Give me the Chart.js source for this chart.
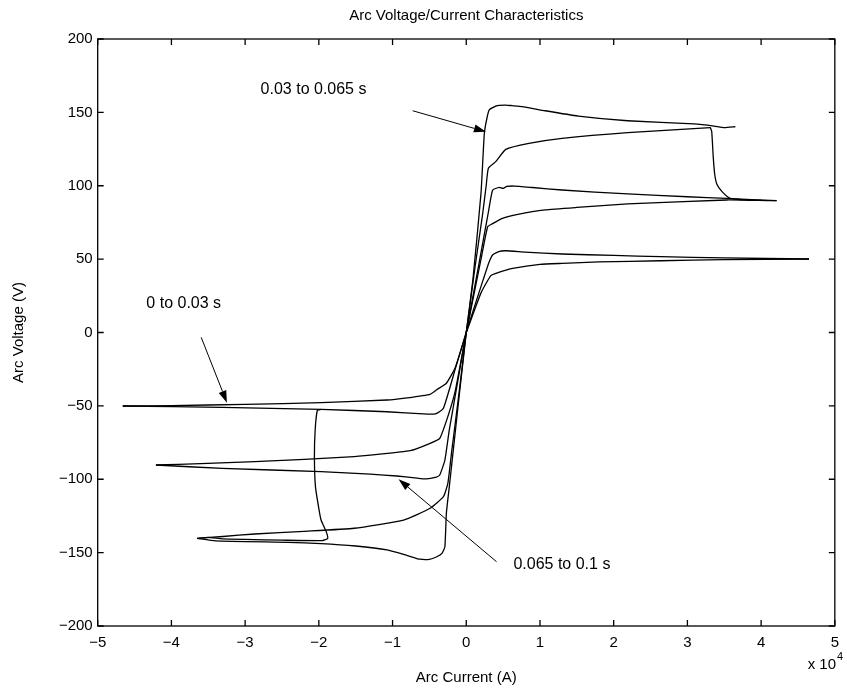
<!DOCTYPE html>
<html>
<head>
<meta charset="utf-8">
<title>Arc Voltage/Current Characteristics</title>
<script src="https://cdn.jsdelivr.net/npm/chart.js@4.4.1/dist/chart.umd.min.js"></script>
<style>
  html, body { margin: 0; padding: 0; background: #fff; }
  #wrap { width: 847px; height: 689px; }
</style>
</head>
<body>
<div id="wrap"><canvas id="arcChart" width="847" height="689"></canvas></div>
<script>
// arc current in units of 1e4 A, arc voltage in V  -> [I, V]

// 0 to 0.03 s  (about +/-50 V)
const loopA_upPos = [[0,0],[0.12,19],[0.23,36],[0.31,48],[0.36,53],[0.45,55.3],[0.54,55.7],[0.8,54.8],[1.3,53.5],[2.0,52.5],[2.64,51.7],[3.5,50.8],[4.65,50.1]];
const loopA_loPos = [[4.65,50.1],[3.5,49.6],[2.64,48.9],[1.8,48.1],[1.3,47.1],[1.0,46.4],[0.63,43.7],[0.45,41.2],[0.334,38.8],[0.2,27],[0,0]];
const loopA_upNeg = [[0,0],[-0.15,-24],[-0.27,-34.6],[-0.40,-39],[-0.49,-42.1],[-0.8,-44.5],[-1.075,-46],[-1.97,-47.8],[-3.0,-49],[-4.0,-49.8],[-4.66,-50.1]];
const loopA_loNeg = [[-4.66,-50.1],[-3.31,-51],[-1.97,-52.4],[-1.075,-54],[-0.58,-55.5],[-0.45,-55.6],[-0.40,-55.1],[-0.31,-51.7],[-0.15,-25],[0,0]];

// 0.03 to 0.065 s  (about +/-140..155 V)
const loopB_upPos = [[0,0],[0.09,36],[0.2,95],[0.245,135.7],[0.28,146],[0.31,151.6],[0.40,154.3],[0.45,154.8],[0.536,155],[0.62,154.6],[0.76,153.9],[1.07,151.1],[1.52,147.5],[2.19,144.3],[3.09,142.1],[3.36,140.7],[3.5,139.6],[3.65,140.2]];
const loopB_loPos = [[0,0],[0.12,45],[0.22,80],[0.27,100],[0.30,111.9],[0.40,116.4],[0.536,124.8],[0.85,128.9],[1.30,132.3],[2.19,136.2],[3.31,139.6]];
const loopB_dropPos = [[3.31,139.8],[3.33,137],[3.35,120],[3.37,108],[3.40,101],[3.47,96],[3.58,91.4],[3.8,90.3],[4.0,90]];
const loopB_upNeg = [[0,0],[-0.1,-42],[-0.2,-82],[-0.25,-102.8],[-0.31,-111.9],[-0.49,-119.8],[-0.85,-127.8],[-1.52,-133.4],[-2.2,-135.5],[-2.87,-137.3],[-3.3,-139],[-3.65,-140.3]];
const loopB_loNeg = [[-3.65,-140.3],[-3.4,-142],[-2.42,-143],[-1.97,-143.8],[-1.5,-145.5],[-1.075,-148.2],[-0.8,-152],[-0.63,-154.5],[-0.5,-154.6],[-0.40,-152.8],[-0.33,-150.5],[-0.29,-146],[-0.27,-123.2],[-0.23,-105],[-0.1,-45],[0,0]];
const loopB_riseNeg = [[-1.97,-52.4],[-2.02,-53],[-2.05,-66.4],[-2.06,-84.6],[-2.046,-105],[-2.0,-120],[-1.97,-127.8],[-1.9,-135.7],[-1.88,-140.3],[-1.95,-141.8],[-2.5,-141.5],[-3.0,-141],[-3.31,-140.6],[-3.5,-139.6],[-3.65,-140.3]];

// 0.065 to 0.1 s  (about +/-90..100 V)
const loopC_upPos = [[0,0],[0.18,49],[0.30,82],[0.357,97],[0.446,98.9],[0.5,98.2],[0.55,99.5],[0.65,99.8],[0.9,98.8],[1.3,97.1],[2.19,94.4],[3.0,92.5],[3.53,91.4],[4.21,89.8]];
const loopC_loPos = [[4.21,89.8],[3.53,90.3],[2.19,87.6],[1.5,85.2],[1.07,83.5],[0.7,80.5],[0.49,77.8],[0.35,74],[0.29,72.1],[0.2,50],[0,0]];
const loopC_upNeg = [[0,0],[-0.15,-40],[-0.25,-57.3],[-0.36,-72.1],[-0.49,-75.5],[-0.76,-80.5],[-1.52,-84.6],[-2.87,-88],[-3.6,-89.3],[-4.21,-90.3]];
const loopC_loNeg = [[-4.21,-90.3],[-3.31,-92.6],[-1.97,-94.8],[-1.3,-96.5],[-0.94,-97.8],[-0.7,-99],[-0.54,-99.8],[-0.42,-98.8],[-0.36,-97.1],[-0.29,-86.9],[-0.23,-66.4],[0,0]];

const branches = [
  loopA_upPos, loopA_loPos, loopA_upNeg, loopA_loNeg,
  loopB_upPos, loopB_loPos, loopB_dropPos, loopB_upNeg, loopB_loNeg, loopB_riseNeg,
  loopC_upPos, loopC_loPos, loopC_upNeg, loopC_loNeg
];

// axis ranges and tick steps
const xRange = [-5, 5];
const yRange = [-200, 200];
const xStep = 1;
const yStep = 50;

// time-interval notes: text anchor and arrow (tail -> head), in data units
const noteTexts = ["0.03 to 0.065 s", "0 to 0.03 s", "0.065 to 0.1 s"];
const noteAnchors = [[-2.79, 165.7], [-4.34, 19.4], [0.64, -158.0]];
const noteArrows = [
  [[-0.726, 151.1], [0.267, 136.8]],
  [[-3.596, -3.3], [-3.247, -47.8]],
  [[0.411, -156.2], [-0.918, -100.0]]
];

const FONT = "'Liberation Sans', Arial, Helvetica, sans-serif";

const minus = v => String(v).replace("-", "\u2212");

// MATLAB style box: frame plus inward ticks on all four sides, and text
const boxPlugin = {
  id: "boxPlugin",
  afterDraw(chart) {
    const ctx = chart.ctx;
    const a = chart.chartArea;
    const sx = chart.scales.x, sy = chart.scales.y;
    const tl = 6;

    ctx.save();
    ctx.strokeStyle = "#000";
    ctx.lineWidth = 1.3;
    ctx.strokeRect(a.left, a.top, a.right - a.left, a.bottom - a.top);
    ctx.beginPath();
    sx.ticks.forEach(t => {
      const px = sx.getPixelForValue(t.value);
      ctx.moveTo(px, a.bottom); ctx.lineTo(px, a.bottom - tl);
      ctx.moveTo(px, a.top); ctx.lineTo(px, a.top + tl);
    });
    sy.ticks.forEach(t => {
      const py = sy.getPixelForValue(t.value);
      ctx.moveTo(a.left, py); ctx.lineTo(a.left + tl, py);
      ctx.moveTo(a.right, py); ctx.lineTo(a.right - tl, py);
    });
    ctx.stroke();

    // titles
    ctx.fillStyle = "#000";
    ctx.textBaseline = "middle";
    ctx.textAlign = "center";
    ctx.font = "15px " + FONT;
    ctx.fillText("Arc Voltage/Current Characteristics", (a.left + a.right) / 2, 16);
    ctx.fillText("Arc Current (A)", (a.left + a.right) / 2, 678);
    ctx.save();
    ctx.translate(19, (a.top + a.bottom) / 2);
    ctx.rotate(-Math.PI / 2);
    ctx.fillText("Arc Voltage (V)", 0, 0);
    ctx.restore();

    // exponent note
    ctx.textAlign = "right";
    ctx.textBaseline = "alphabetic";
    ctx.fillText("x 10", 836, 669);
    ctx.textAlign = "left";
    ctx.font = "11px " + FONT;
    ctx.fillText("4", 837, 660);

    // interval notes with arrows
    ctx.font = "16px " + FONT;
    ctx.textBaseline = "middle";
    noteTexts.forEach((txt, i) => {
      const [ax, ay] = noteAnchors[i];
      ctx.fillText(txt, sx.getPixelForValue(ax), sy.getPixelForValue(ay));

      const [[x0, y0], [x1, y1]] = noteArrows[i];
      const p0 = [sx.getPixelForValue(x0), sy.getPixelForValue(y0)];
      const p1 = [sx.getPixelForValue(x1), sy.getPixelForValue(y1)];
      const ang = Math.atan2(p1[1] - p0[1], p1[0] - p0[0]);
      const hl = 12, hw = 4;
      ctx.lineWidth = 1;
      ctx.beginPath();
      ctx.moveTo(p0[0], p0[1]);
      ctx.lineTo(p1[0] - hl * Math.cos(ang), p1[1] - hl * Math.sin(ang));
      ctx.stroke();
      ctx.beginPath();
      ctx.moveTo(p1[0], p1[1]);
      ctx.lineTo(p1[0] - hl * Math.cos(ang) + hw * Math.sin(ang), p1[1] - hl * Math.sin(ang) - hw * Math.cos(ang));
      ctx.lineTo(p1[0] - hl * Math.cos(ang) - hw * Math.sin(ang), p1[1] - hl * Math.sin(ang) + hw * Math.cos(ang));
      ctx.closePath();
      ctx.fill();
    });
    ctx.restore();
  }
};

const ctx = document.getElementById("arcChart").getContext("2d");
new Chart(ctx, {
  type: "scatter",
  data: {
    datasets: branches.map(b => ({
      data: b.map(p => ({ x: p[0], y: p[1] })),
      showLine: true,
      borderColor: "#000",
      borderWidth: 1.3,
      pointRadius: 0,
      tension: 0.15,
      fill: false
    }))
  },
  options: {
    responsive: false,
    animation: false,
    layout: { padding: { top: 39, right: 4.5, left: 0, bottom: 0 } },
    plugins: {
      legend: { display: false },
      tooltip: { enabled: false }
    },
    scales: {
      x: {
        type: "linear",
        min: xRange[0], max: xRange[1],
        afterFit: s => { s.height = 63; },
        grid: { drawOnChartArea: false, drawTicks: false },
        border: { display: false },
        ticks: {
          stepSize: xStep,
          padding: 8,
          color: "#000",
          font: { family: FONT, size: 15 },
          maxRotation: 0,
          callback: v => minus(v)
        }
      },
      y: {
        type: "linear",
        min: yRange[0], max: yRange[1],
        afterFit: s => { s.width = 97.7; },
        grid: { drawOnChartArea: false, drawTicks: false },
        border: { display: false },
        ticks: {
          stepSize: yStep,
          padding: 5,
          color: "#000",
          font: { family: FONT, size: 15 },
          callback: v => minus(v)
        }
      }
    }
  },
  plugins: [boxPlugin]
});
</script>
</body>
</html>
